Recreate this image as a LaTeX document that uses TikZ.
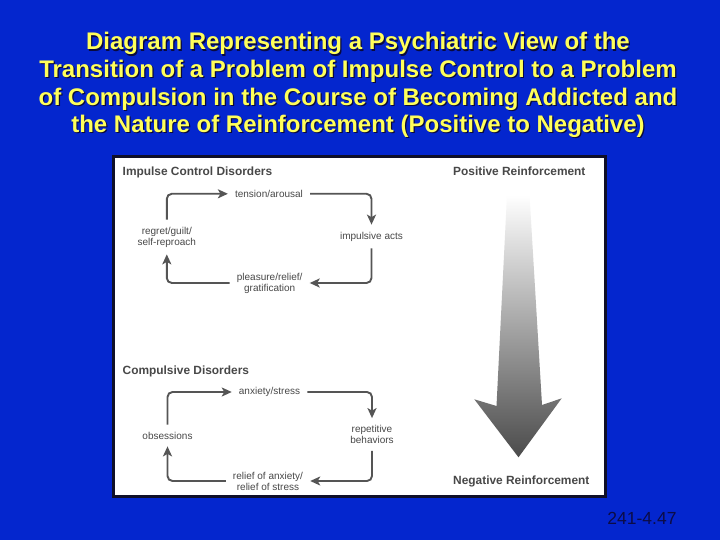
\documentclass[tikz,border=0pt]{standalone}
\usepackage{fontspec}
\setmainfont{Liberation Sans}
\usetikzlibrary{arrows.meta}
\definecolor{bg}{RGB}{4,38,206}
\definecolor{ttl}{RGB}{255,255,90}
\definecolor{shd}{RGB}{10,10,60}
\definecolor{txt}{RGB}{72,72,72}
\definecolor{arr}{RGB}{85,85,85}
\definecolor{foot}{RGB}{12,12,70}
\definecolor{frm}{RGB}{15,15,40}
\definecolor{bigarr}{RGB}{75,75,75}
\begin{document}
\begin{tikzpicture}[x=1pt,y=-1pt,
  ttlline/.style={anchor=base, text=ttl, inner sep=0, font=\fontsize{24}{26}\selectfont\bfseries},
  ttlshadow/.style={anchor=base, text=shd, inner sep=0, font=\fontsize{24}{26}\selectfont\bfseries},
  header/.style={anchor=base west, inner sep=0, text=txt, font=\fontsize{11.9}{14}\selectfont\bfseries},
  lbl/.style={inner sep=3pt, text=txt, align=center, font=\fontsize{10}{11}\selectfont},
  cyc/.style={draw=arr, line width=1.9pt, rounded corners=5pt, shorten >=4pt, shorten <=4pt,
    -{Stealth[length=10pt,width=9pt,inset=2.5pt]}}
]
\useasboundingbox (0,0) rectangle (720,540);
\fill[bg] (0,0) rectangle (720,540);

% title with shadow
\foreach \yy/\tt in {50/{Diagram Representing a Psychiatric View of the},
  77.8/{Transition of a Problem of Impulse Control to a Problem},
  105.4/{of Compulsion in the Course of Becoming Addicted and},
  132.8/{the Nature of Reinforcement (Positive to Negative)}}{
  \node[ttlshadow] at (359.2,\yy+1.2) {\tt};
}
\node[ttlline] (t1) at (358,50) {Diagram Representing a Psychiatric View of the};
\node[ttlline] (t2) at (358,77.8) {Transition of a Problem of Impulse Control to a Problem};
\node[ttlline] (t3) at (358,105.4) {of Compulsion in the Course of Becoming Addicted and};
\node[ttlline] (t4) at (358,132.8) {the Nature of Reinforcement (Positive to Negative)};

% panel
\draw[frm, fill=white, line width=2.2pt] (113.5,156.5) rectangle (605.5,496.5);

% headers
\node[header] (hImp) at (122.5,175.3) {Impulse Control Disorders};
\node[header] (hComp) at (122.5,374.3) {Compulsive Disorders};
\node[header] (hPos) at (453,175.3) {Positive Reinforcement};
\node[header] (hNeg) at (453,484.3) {Negative Reinforcement};

% impulse control cycle
\node[lbl] (tension) at (269,193.8) {tension/arousal};
\node[lbl] (impulsive) at (371.5,236.5) {impulsive acts};
\node[lbl] (pleasure) at (269.7,283) {pleasure/relief/\\gratification};
\node[lbl] (regret) at (166.8,237) {regret/guilt/\\self-reproach};

\draw[cyc] (regret.north) |- (tension.west);
\draw[cyc] (tension.east) -| (impulsive.north);
\draw[cyc] (impulsive.south) |- (pleasure.east);
\draw[cyc] (pleasure.west) -| (regret.south);

% compulsive cycle
\node[lbl] (anxiety) at (269.5,392) {anxiety/stress};
\node[lbl] (repetitive) at (372,434.5) {repetitive\\behaviors};
\node[lbl] (relief) at (268,481) {relief of anxiety/\\relief of stress};
\node[lbl] (obsess) at (167.5,435.5) {obsessions};

\draw[cyc] (obsess.north) |- (anxiety.west);
\draw[cyc] (anxiety.east) -| (repetitive.north);
\draw[cyc] (repetitive.south) |- (relief.east);
\draw[cyc] (relief.west) -| (obsess.south);

% big shaded arrow
\shade[top color=white, bottom color=bigarr]
  (507,195) -- (529.5,195) -- (542,405) -- (561.7,398.3) -- (518.5,457.3)
  -- (474.3,399.3) -- (496.5,406) -- cycle;

% footer
\node[text=foot, inner sep=0, font=\fontsize{17.5}{20}\selectfont] (foot) at (642,518.5) {241-4.47};
\end{tikzpicture}
\end{document}
